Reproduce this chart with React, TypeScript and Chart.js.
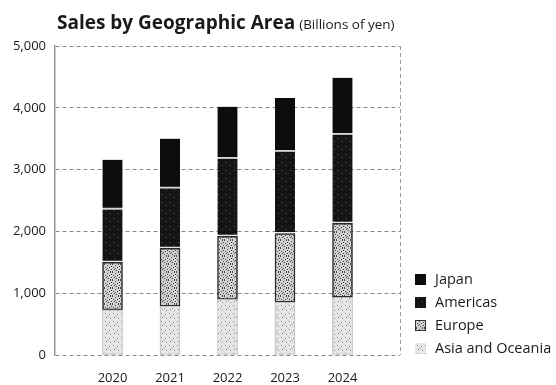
import React, { useEffect, useRef } from 'react';
import { Chart, registerables } from 'chart.js';
Chart.register(...registerables);

const years = ['2020', '2021', '2022', '2023', '2024'];
const asiaOceania = [730, 790, 900, 855, 935];
const europe = [770, 935, 1020, 1110, 1195];
const americas = [855, 970, 1255, 1325, 1435];
const japan = [805, 805, 840, 870, 920];
const seriesNames = ['Asia and Oceania', 'Europe', 'Americas', 'Japan'];
const titleMain = 'Sales by Geographic Area';
const titleUnit = '(Billions of yen)';
const yMin = 0;
const yMax = 5000;
const yStep = 1000;

const FONT = '"Open Sans", "Noto Sans", sans-serif';

// texture tiles (style only)
const denseDots = [[0,0],[3,1],[6,0],[1,3],[5,3],[2,5],[7,5],[4,6],[0,7],[6,7],[3,4],[7,2]];
const sparseDots = [[1,1],[5,2],[2,5],[6,6],[4,4]];
const darkDots = [[2,2],[6,5]];

function makePattern(bg: string, fg: string, dots: number[][], size = 8): CanvasPattern | string {
  const c = document.createElement('canvas');
  c.width = size; c.height = size;
  const g = c.getContext('2d');
  if (!g) return bg;
  g.fillStyle = bg; g.fillRect(0, 0, size, size);
  g.fillStyle = fg;
  dots.forEach(([x, y]) => g.fillRect(x, y, 1, 1));
  return g.createPattern(c, 'repeat') || bg;
}

const pad = (arr: number[]) => [null, ...arr, null];

export default function App() {
  const ref = useRef<HTMLCanvasElement>(null);
  useEffect(() => {
    if (!ref.current) return;
    const asiaFill = makePattern('#e6e6e6', '#8a8a8a', sparseDots);
    const europeFill = makePattern('#cfcfcf', '#4a4a4a', denseDots);
    const americasFill = makePattern('#141414', '#5a5a5a', darkDots);
    const japanFill = '#0d0d0d';

    const overlay = {
      id: 'overlay',
      afterDraw(chart: any) {
        const ctx = chart.ctx as CanvasRenderingContext2D;
        const area = chart.chartArea;
        ctx.save();
        ctx.textBaseline = 'alphabetic';
        ctx.textAlign = 'left';
        ctx.fillStyle = '#1a1a1a';
        ctx.font = `bold 19px ${FONT}`;
        ctx.fillText(titleMain, area.left + 2, 29);
        const w = ctx.measureText(titleMain).width;
        ctx.font = `13.5px ${FONT}`;
        ctx.fillText(titleUnit, area.left + 2 + w + 4, 29);

        const ds = chart.data.datasets.slice().reverse();
        ctx.font = `14.5px ${FONT}`;
        ctx.textBaseline = 'middle';
        ds.forEach((d: any, i: number) => {
          const y = area.bottom - 7 - (ds.length - 1 - i) * 23;
          const x = area.right + 15;
          ctx.fillStyle = d.backgroundColor;
          ctx.fillRect(x, y - 5, 11, 11);
          if (d.label === 'Europe') {
            ctx.strokeStyle = '#333';
            ctx.lineWidth = 1;
            ctx.strokeRect(x + 0.5, y - 4.5, 10, 10);
          }
          ctx.fillStyle = '#1a1a1a';
          ctx.fillText(d.label, x + 20, y + 1);
        });
        ctx.restore();
      },
    };

    const chart = new Chart(ref.current, {
      type: 'bar',
      data: {
        labels: ['', ...years, ''],
        datasets: [
          { label: seriesNames[0], data: pad(asiaOceania), backgroundColor: asiaFill as any, borderColor: '#bbbbbb', borderWidth: 1, borderSkipped: false },
          { label: seriesNames[1], data: pad(europe), backgroundColor: europeFill as any, borderColor: '#2a2a2a', borderWidth: 1.5, borderSkipped: false },
          { label: seriesNames[2], data: pad(americas), backgroundColor: americasFill as any, borderColor: '#e8e8e8', borderWidth: { top: 0, bottom: 2, left: 0, right: 0 }, borderSkipped: false },
          { label: seriesNames[3], data: pad(japan), backgroundColor: japanFill, borderColor: '#d8d8d8', borderWidth: { top: 0, bottom: 2, left: 0, right: 0 }, borderSkipped: false },
        ],
      },
      options: {
        responsive: false,
        animation: false,
        layout: { padding: { top: 46, right: 156, bottom: 0, left: 0 } },
        datasets: { bar: { barThickness: 20 } },
        plugins: { legend: { display: false }, title: { display: false }, tooltip: { enabled: false } },
        scales: {
          x: {
            stacked: true,
            offset: false,
            afterFit: (s: any) => { s.height = 30; },
            grid: {
              offset: false,
              drawTicks: false,
              color: (c: any) => (c.index === years.length + 1 ? '#9a9a9a' : 'rgba(0,0,0,0)'),
              lineWidth: 1,
            },
            border: { display: false, dash: [4, 3] },
            ticks: { autoSkip: false, maxRotation: 0, padding: 15, color: '#1a1a1a', font: { family: FONT, size: 13 } },
          },
          y: {
            stacked: true,
            min: yMin,
            max: yMax,
            afterFit: (s: any) => { s.width = 55; },
            ticks: {
              stepSize: yStep,
              padding: 9,
              color: '#1a1a1a',
              font: { family: FONT, size: 13 },
              callback: (v: any) => Number(v).toLocaleString('en-US'),
            },
            grid: { drawTicks: false, color: '#8a8a8a', lineWidth: 1 },
            border: { display: true, color: '#9a9a9a', width: 1.5, dash: [4, 3] },
          },
        },
      },
      plugins: [overlay],
    });
    return () => chart.destroy();
  }, []);
  return (
    <div style={{ position: 'absolute', left: 0, top: 0, width: 556, height: 385, background: '#fff' }}>
      <canvas ref={ref} width={556} height={385} />
    </div>
  );
}
